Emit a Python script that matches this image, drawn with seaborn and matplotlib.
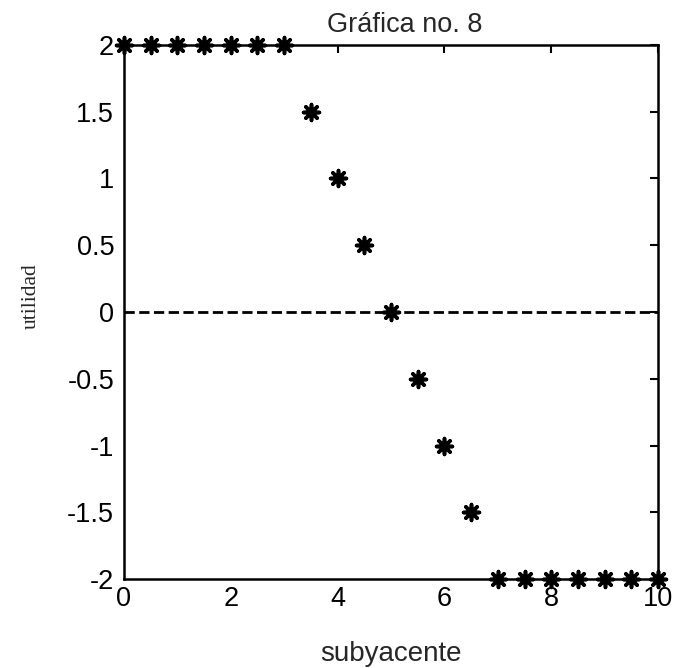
import numpy as np
import pandas as pd
import matplotlib
matplotlib.use("Agg")
import matplotlib.pyplot as plt
import seaborn as sns

# datos
subyacente = [0, 0.5, 1, 1.5, 2, 2.5, 3, 3.5, 4, 4.5, 5, 5.5, 6, 6.5, 7, 7.5, 8, 8.5, 9, 9.5, 10]
utilidad = [2, 2, 2, 2, 2, 2, 2, 1.5, 1, 0.5, 0, -0.5, -1, -1.5, -2, -2, -2, -2, -2, -2, -2]
cero_x = [0, 10]
cero_y = [0, 0]

sns.set_style("white")
plt.rcParams['font.family'] = ['Liberation Sans', 'DejaVu Sans']

df = pd.DataFrame({'x': subyacente, 'y': utilidad})
lin = pd.DataFrame({'x': cero_x, 'y': cero_y})

fig = plt.figure(figsize=(6.77, 6.68), dpi=100)
ax = fig.add_axes([0.183, 0.133, 0.789, 0.800])

sns.lineplot(data=lin, x='x', y='y', ax=ax, color='black', linestyle='--', linewidth=2)
sns.scatterplot(data=df, x='x', y='y', ax=ax, marker=(8, 2, 0), s=130,
                color='black', edgecolor='black', linewidth=2.6, clip_on=False, zorder=5)

ax.set_xlim(0, 10)
ax.set_ylim(-2, 2)
ax.set_xticks([0, 2, 4, 6, 8, 10])
ax.set_yticks([-2, -1.5, -1, -0.5, 0, 0.5, 1, 1.5, 2])
ax.set_yticklabels(['-2', '-1.5', '-1', '-0.5', '0', '0.5', '1', '1.5', '2'])
ax.tick_params(direction='in', length=6, width=1.5, top=True, right=True,
               labelsize=19.5, colors='black')
ax.tick_params(axis='x', pad=5)
ax.tick_params(axis='y', pad=7)
for s in ax.spines.values():
    s.set_linewidth(1.8)
    s.set_color('black')

ax.set_title('Gráfica no. 8', fontsize=19.5, pad=9.5, x=0.526)
ax.set_xlabel('subyacente', fontsize=20, labelpad=21)
ax.set_ylabel('utilidad', fontsize=15.5, family=['Liberation Serif'])
ax.yaxis.set_label_coords(-0.155, 0.529)

fig.savefig('out.png', dpi=100)
